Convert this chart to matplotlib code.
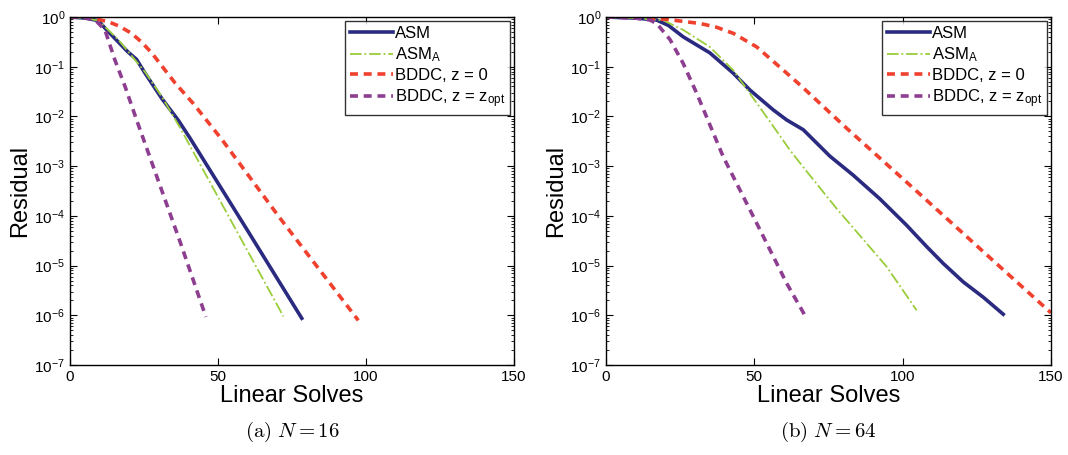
import matplotlib
matplotlib.use("Agg")
import matplotlib.pyplot as plt
from matplotlib.ticker import LogLocator, NullFormatter

plt.rcParams['font.family'] = ['Liberation Sans', 'DejaVu Sans']
plt.rcParams['mathtext.fontset'] = 'custom'
plt.rcParams['mathtext.rm'] = 'Liberation Sans'
plt.rcParams['mathtext.it'] = 'Liberation Sans:italic'

# ---- data: (a) N = 16 ----
asm16_x = [0, 5, 9.5, 12.5, 16.2, 19.5, 22.5, 25.3, 31, 36.5, 40.5, 59.7, 78.3]
asm16_y = [1.0, 0.95, 0.85, 0.54, 0.32, 0.2, 0.14, 0.075, 0.023, 8.5e-3, 3.7e-3, 5.4e-5, 8.7e-7]
asma16_x = [0, 5, 9.5, 12.5, 16.2, 20, 25.3, 31, 37.2, 54.6, 72.1]
asma16_y = [1.0, 0.95, 0.85, 0.58, 0.355, 0.19, 0.079, 0.025, 5.9e-3, 7.6e-5, 9.5e-7]
bddc0_16_x = [0, 5, 8, 12.8, 16.5, 20.8, 24, 27.6, 31.5, 35.5, 41.7, 51.2, 71, 97.4]
bddc0_16_y = [1.0, 0.98, 0.93, 0.81, 0.66, 0.47, 0.32, 0.19, 0.095, 0.047, 0.018, 3.5e-3,
              8.9e-5, 7.9e-7]
bddcz_16_x = [0, 5, 8.5, 11.8, 15.2, 18.6, 22.5, 37.2, 45.9]
bddcz_16_y = [1.0, 0.98, 0.87, 0.55, 0.135, 0.04, 8.5e-3, 3.0e-5, 9.3e-7]

# ---- (b) N = 64 ----
asm64_x = [0, 10, 17, 21, 26, 35, 42.9, 48.5, 56.4, 60.9, 66.5, 75.5, 83.3, 92.3,
           101.3, 108.1, 113.7, 120.4, 127.2, 133.9]
asm64_y = [1.0, 0.95, 0.87, 0.68, 0.4, 0.19, 0.074, 0.034, 0.0135, 8.5e-3, 5.4e-3, 1.58e-3,
           6.6e-4, 2.2e-4, 6.5e-5, 2.4e-5, 1.1e-5, 4.7e-6, 2.3e-6, 1.05e-6]
asma64_x = [0, 10, 19.5, 26, 35, 42.9, 48.5, 56.4, 62, 67.6, 77.7, 85.6, 94.6, 104.7]
asma64_y = [1.0, 0.95, 0.85, 0.55, 0.25, 0.085, 0.029, 6.3e-3, 2.1e-3, 7.9e-4, 1.41e-4,
            4.0e-5, 9.5e-6, 1.26e-6]
bddc0_64_x = [0, 10, 21, 31.7, 37, 42.9, 50.8, 59.8, 66, 81.1, 103.6, 126, 150]
bddc0_64_y = [1.0, 0.98, 0.89, 0.74, 0.63, 0.47, 0.25, 0.085, 0.04, 5.8e-3, 3.6e-4,
              2.2e-5, 1.12e-6]
bddcz_64_x = [0, 10, 14.8, 17.1, 21.6, 26, 30.6, 39.5, 50.8, 60.9, 67.6]
bddcz_64_y = [1.0, 0.95, 0.87, 0.74, 0.35, 0.117, 0.029, 1.55e-3, 7.1e-5, 4.4e-6, 8.7e-7]

labels = ['ASM', r'ASM$_\mathregular{A}$', 'BDDC, z = 0', r'BDDC, z = z$_\mathregular{opt}$']
captions = [r'$\mathrm{(a)}\ N = 16$', r'$\mathrm{(b)}\ N = 64$']

panels = [
    (asm16_x, asm16_y, asma16_x, asma16_y, bddc0_16_x, bddc0_16_y, bddcz_16_x, bddcz_16_y),
    (asm64_x, asm64_y, asma64_x, asma64_y, bddc0_64_x, bddc0_64_y, bddcz_64_x, bddcz_64_y),
]

W, H = 1068, 455
fig = plt.figure(figsize=(W / 100, H / 100), dpi=100)
boxes = [(70, 444), (606, 445)]  # left edge, width in px

for k, ((x0, w), data) in enumerate(zip(boxes, panels)):
    ax = fig.add_axes([x0 / W, (H - 365) / H, w / W, 348 / H])
    ax.plot(data[0], data[1], color='#2a2a80', lw=2.6, label=labels[0])
    ax.plot(data[2], data[3], color='#9acd3a', lw=1.3, ls='-.', label=labels[1])
    ax.plot(data[4], data[5], color='#f0402e', lw=2.6, ls=(0, (2.2, 1.6)), label=labels[2])
    ax.plot(data[6], data[7], color='#8e3e90', lw=2.6, ls=(0, (2.2, 1.6)), label=labels[3])

    ax.set_yscale('log')
    ax.set_xlim(0, 150)
    ax.set_ylim(1e-7, 1)
    ax.set_xticks([0, 50, 100, 150])
    ax.yaxis.set_major_locator(LogLocator(base=10, numticks=10))
    ax.yaxis.set_minor_locator(LogLocator(base=10, subs=range(2, 10), numticks=20))
    ax.yaxis.set_minor_formatter(NullFormatter())
    ax.tick_params(which='both', direction='in', top=True, right=True, labelsize=11)
    ax.tick_params(which='major', length=5)
    ax.tick_params(which='minor', length=2.5)
    for s in ax.spines.values():
        s.set_linewidth(1.0)

    ax.set_xlabel('Linear Solves', fontsize=17, labelpad=1)
    ax.set_ylabel('Residual', fontsize=17, labelpad=2)

    leg = ax.legend(loc='upper right', fontsize=12, frameon=True, fancybox=False,
                    borderaxespad=0.25, handlelength=2.6, handletextpad=0.1,
                    labelspacing=0.25, borderpad=0.3)
    leg.get_frame().set_edgecolor('black')
    leg.get_frame().set_linewidth(1.0)

    fig.text((x0 + w / 2) / W, 1 - 432 / H, captions[k], ha='center', va='center',
             fontsize=15, math_fontfamily='cm')

fig.savefig('out.png', dpi=100)
